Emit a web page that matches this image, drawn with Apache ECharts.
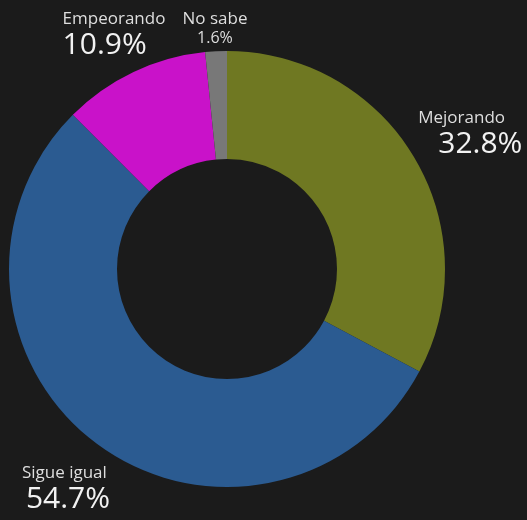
<!DOCTYPE html>
<html>
<head>
<meta charset="utf-8">
<script src="https://cdn.jsdelivr.net/npm/echarts@6/dist/echarts.min.js"></script>
<style>
  html, body { margin: 0; padding: 0; background: #1b1b1b; }
  #chart { width: 527px; height: 520px; }
</style>
</head>
<body>
<div id="chart"></div>
<script>
const categories = ['Mejorando', 'Sigue igual', 'Empeorando', 'No sabe']
const shares = [32.8, 54.7, 10.9, 1.6]
const colors = ['#6f7822', '#2b5b91', '#c912c9', '#787878']

// label nudges, applied after the pie places its outside labels
const labelShift = {
  'Mejorando': [-11, -17],
  'Sigue igual': [25, 35],
  'Empeorando': [42, -26],
  'No sabe': [37, -11]
}
const labelFormat = {
  'Mejorando': '{n|{b}}\n{pr|{c}%}',
  'Sigue igual': '{n|{b}}\n{pl|{c}%}',
  'Empeorando': '{n|{b}}\n{p|{c}%}',
  'No sabe': '{s|{b}}\n{t|{c}%}'
}

const chart = echarts.init(document.getElementById('chart'))

const pieData = categories.map((name, i) => ({
  name,
  value: shares[i],
  itemStyle: { color: colors[i] },
  label: { formatter: labelFormat[name] }
}))

const font = 'Open Sans'
chart.setOption({
  backgroundColor: '#1b1b1b',
  series: [{
    type: 'pie',
    center: [227, 269],
    radius: [110, 218],
    startAngle: 90,
    clockwise: true,
    avoidLabelOverlap: false,
    data: pieData,
    label: {
      show: true,
      position: 'outside',
      color: '#e8e8e8',
      fontFamily: font,
      rich: {
        n: { fontSize: 17, fontFamily: font, color: '#dedede', align: 'left', lineHeight: 21 },
        p: { fontSize: 30, fontFamily: font, color: '#f2f2f2', align: 'left', lineHeight: 32 },
        pr: { fontSize: 30, fontFamily: font, color: '#f2f2f2', align: 'left', lineHeight: 32, padding: [0, 0, 0, 20] },
        pl: { fontSize: 30, fontFamily: font, color: '#f2f2f2', align: 'left', lineHeight: 32, padding: [0, 0, 0, 4] },
        s: { fontSize: 17, fontFamily: font, color: '#dedede', align: 'center', lineHeight: 20 },
        t: { fontSize: 16, fontFamily: font, color: '#dedede', align: 'center', lineHeight: 19 }
      }
    },
    labelLine: { show: false, length: 12, length2: 0 },
    labelLayout: (params) => {
      const s = labelShift[categories[params.dataIndex]]
      return { dx: s[0], dy: s[1] }
    },
    emphasis: { disabled: true }
  }]
})
</script>
</body>
</html>
